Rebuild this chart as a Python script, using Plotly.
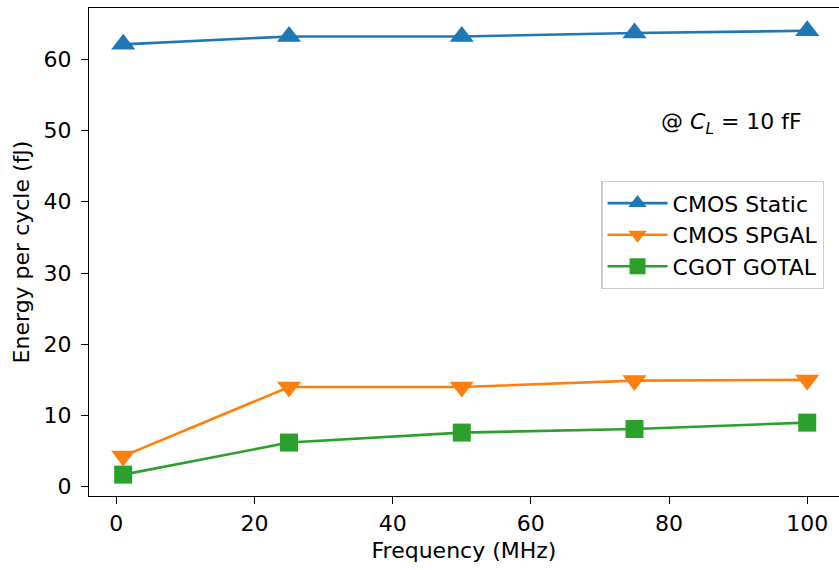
import plotly.graph_objects as go

# Energy per cycle vs. operating frequency at a 10 fF load
frequency_mhz = [1, 25, 50, 75, 100]
cmos_static = [62.1, 63.2, 63.2, 63.7, 64.0]
cmos_spgal = [4.3, 14.0, 14.0, 14.9, 15.0]
cgot_gotal = [1.7, 6.2, 7.6, 8.1, 9.0]

x_ticks = [0, 20, 40, 60, 80, 100]
y_ticks = [0, 10, 20, 30, 40, 50, 60]

series = [
    ("CMOS Static", cmos_static, "#1f77b4", "triangle-up", 21),
    ("CMOS SPGAL", cmos_spgal, "#ff7f0e", "triangle-down", 21),
    ("CGOT GOTAL", cgot_gotal, "#2ca02c", "square", 18),
]

FONT = "DejaVu Sans"
FS = 22

fig = go.Figure()
for name, values, color, symbol, size in series:
    fig.add_trace(go.Scatter(
        x=frequency_mhz, y=values, name=name, mode="lines+markers",
        line=dict(color=color, width=2.6),
        marker=dict(symbol=symbol, size=size, color=color, line=dict(width=0)),
        legendgroup=name,
    ))

axis_common = dict(
    showgrid=False, zeroline=False, showline=True, linecolor="black", linewidth=1.3,
    ticks="outside", ticklen=7, tickwidth=1.3, tickcolor="black",
    tickfont=dict(family=FONT, size=FS, color="black"),
)

fig.update_layout(
    width=839, height=570,
    margin=dict(l=89, r=0, t=8, b=74),
    paper_bgcolor="white", plot_bgcolor="white",
    font=dict(family=FONT, size=FS, color="black"),
    xaxis=dict(
        range=[-3.95, 104.6], tickvals=x_ticks, mirror=True, automargin=False,
        title=dict(text="Frequency (MHz)", font=dict(family=FONT, size=FS), standoff=8),
        **axis_common,
    ),
    yaxis=dict(
        range=[-1.3, 67.2], tickvals=y_ticks, ticklabelstandoff=5, automargin=False,
        title=dict(text="Energy per cycle (fJ)", font=dict(family=FONT, size=FS), standoff=7),
        **axis_common,
    ),
    legend=dict(
        x=0.683, y=0.6455, xanchor="left", yanchor="top",
        bordercolor="#cccccc", borderwidth=1.3, bgcolor="rgba(255,255,255,0.8)",
        font=dict(family=FONT, size=FS), itemsizing="trace", itemwidth=60,
        tracegroupgap=0,
    ),
    annotations=[dict(
        text="@ <i>C</i><sub><i>L</i></sub> = 10 fF",
        x=0.857, y=0.764, xref="paper", yref="paper", showarrow=False,
        xanchor="center", yanchor="middle", font=dict(family=FONT, size=FS),
    )],
)

fig.write_html("out.html")
